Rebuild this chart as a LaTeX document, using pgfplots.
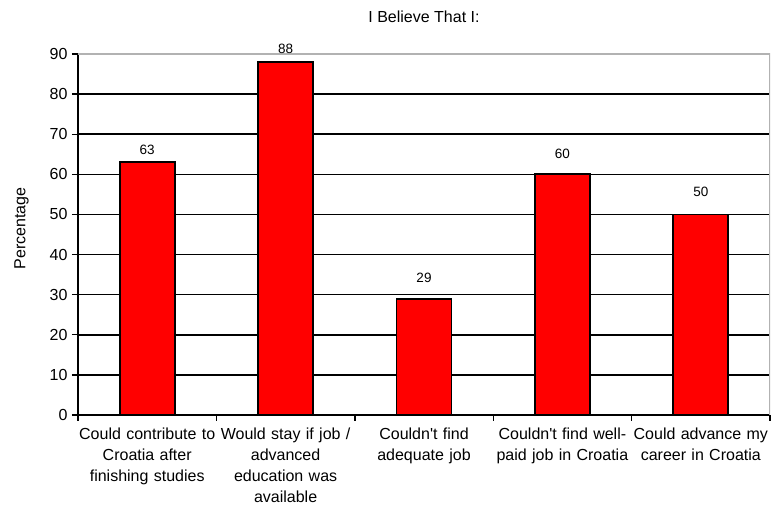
\documentclass[border=0pt]{standalone}
\usepackage{pgfplots}
\usepackage{pgfplotstable}
\pgfplotsset{compat=1.18}
\usepackage{fontspec}
\setmainfont{Liberation Sans}
\pgfplotstableread{
x y off
0 63 3
1 88 4
2 29 12
3 60 12
4 50 14
}\datatable
\begin{document}
\begin{tikzpicture}
\begin{axis}[
  name=ax,
  scale only axis, width=692pt, height=361pt,
  xmin=-0.5, xmax=4.5, ymin=0, ymax=90,
  axis x line*=bottom, axis y line*=left,
  axis line style={black, line width=2pt, -},
  ytick={0,10,...,90},
  xtick={-0.5,0.5,...,4.5}, xticklabels={},
  extra x ticks={0,1,2,3,4},
  extra x tick labels={{Could contribute to\\Croatia after\\finishing studies},{Would stay if job /\\advanced\\education was\\available},{Couldn\textquotesingle t find\\adequate job},{Couldn\textquotesingle t find well-\\paid job in Croatia},{Could advance my\\career in Croatia}},
  extra x tick style={tick style={draw=none}},
  tick align=outside, major tick length=6pt,
  tick style={black, line width=1.4pt},
  ymajorgrids, grid style={black, line width=1.5pt},
  /pgf/number format/assume math mode=true,
  yticklabel style={font=\fontsize{16}{19}\selectfont, xshift=-1pt},
  xticklabel style={font=\fontsize{16}{21}\selectfont, align=center, text width=150pt, yshift=-3pt},
  ylabel={Percentage},
  ylabel style={font=\fontsize{16}{19}\selectfont, yshift=14pt, xshift=6pt},
  title={I Believe That I:},
  title style={font=\fontsize{16}{19}\selectfont, yshift=22pt},
]
\addplot[ybar, bar width=55pt, fill=red, draw=black, line width=1.7pt,
  nodes near coords,
  visualization depends on={\thisrow{off} \as \off},
  every node near coord/.append style={font=\fontsize{13.5}{15}\selectfont, black, yshift=\off pt}]
  table[x=x, y=y] {\datatable};
\draw[gray!60, line width=1.2pt] (rel axis cs:0,1) -- (rel axis cs:1,1) -- (rel axis cs:1,0);
\end{axis}
\pgfresetboundingbox
\path (ax.south west) ++(-78pt,-95pt) rectangle ++(773pt,510pt);
\end{tikzpicture}
\end{document}
